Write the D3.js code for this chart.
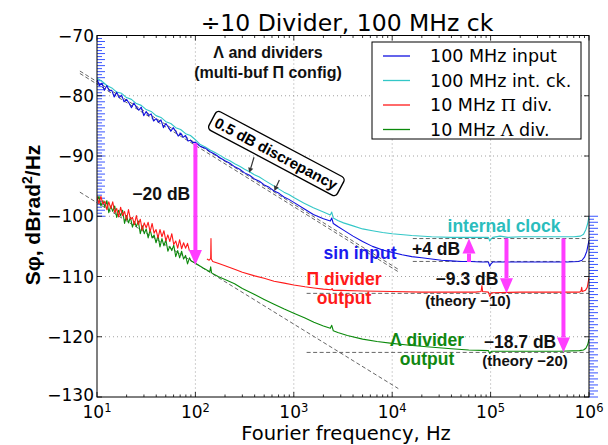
<!DOCTYPE html>
<html><head><meta charset="utf-8">
<script src="https://cdn.jsdelivr.net/npm/d3@7"></script>
<style>
body{margin:0;background:#fff;}
svg{display:block;}
</style></head><body>
<svg id="c" width="608" height="445"></svg>
<script>
// ---------- DATA ----------
const chartTitle = "\u00f710 Divider, 100 MHz ck";
const xLabel = "Fourier frequency, Hz";
const xTickExps = [1, 2, 3, 4, 5, 6];
const yTicks = [-70, -80, -90, -100, -110, -120, -130];
const seriesNames = ["100 MHz input", "100 MHz int. ck.", "10 MHz \u03a0 div.", "10 MHz \u039b div."];
const seriesColors = ["#1010e0", "#33c7c7", "#ff1a1a", "#0b8a0b"];

// [Hz, dBrad^2/Hz]
const inputSeries = [[10,-77.3],[10.59,-78.3],[11.22,-77.9],[11.89,-79.1],[12.59,-78.3],[13.34,-79.2],[14.13,-79.1],[14.96,-80.2],[15.85,-79.4],[16.79,-80.3],[17.78,-79.9],[18.84,-81.0],[19.95,-80.6],[21.13,-81.2],[22.39,-82.0],[23.71,-81.2],[25.12,-81.9],[26.61,-82.4],[28.18,-81.9],[29.85,-83.3],[31.62,-82.6],[33.5,-83.3],[35.48,-83.0],[37.58,-84.2],[39.81,-83.8],[42.17,-84.4],[44.67,-84.0],[47.32,-85.3],[50.12,-84.6],[53.09,-85.2],[56.23,-85.9],[59.57,-85.3],[63.1,-85.9],[66.83,-86.7],[70.79,-86.2],[74.99,-86.9],[79.43,-86.6],[84.14,-87.5],[89.13,-87.4],[94.41,-87.8],[100,-87.7],[112,-88.4],[126,-88.7],[141,-89.3],[158,-89.7],[178,-90.3],[200,-90.8],[224,-91.2],[251,-91.8],[282,-92.2],[316,-92.8],[355,-93.2],[398,-93.8],[447,-94.2],[501,-94.8],[562,-95.2],[631,-95.8],[708,-96.2],[794,-96.8],[891,-97.2],[1000,-97.7],[1260,-98.7],[1580,-99.7],[2000,-100.4],[2350,-100.8],[2430,-100.3],[2520,-101.2],[2800,-101.7],[3200,-102.3],[4000,-103.3],[5000,-104.2],[6300,-105.0],[8000,-105.6],[10000,-106.0],[12600,-106.4],[15800,-106.7],[20000,-106.9],[25100,-107.1],[31600,-107.3],[39800,-107.4],[50100,-107.5],[63100,-107.5],[79400,-107.6],[95000,-107.6],[98000,-108.3],[101000,-107.9],[105000,-107.6],[150000,-107.6],[300000,-107.6],[600000,-107.6],[780000,-107.5],[850000,-107.3],[900000,-106.8],[950000,-105.8],[1000000,-104.0]];

const intClockSeries = [[10,-77.1],[11.22,-77.6],[12.59,-78.3],[14.13,-78.7],[15.85,-79.4],[17.78,-79.6],[19.95,-80.3],[22.39,-80.6],[25.12,-81.3],[28.18,-81.6],[31.62,-82.3],[35.48,-82.6],[39.81,-83.3],[44.67,-83.6],[50.12,-84.3],[56.23,-84.6],[63.1,-85.3],[70.79,-85.6],[79.43,-86.3],[89.13,-86.6],[100,-87.3],[112,-88.1],[126,-88.5],[141,-89.0],[158,-89.4],[178,-89.9],[200,-90.4],[224,-90.8],[251,-91.3],[282,-91.7],[316,-92.2],[355,-92.6],[398,-93.1],[447,-93.5],[501,-94.0],[562,-94.5],[631,-95.0],[708,-95.5],[794,-96.0],[891,-96.4],[1000,-96.9],[1260,-97.8],[1580,-98.6],[2000,-99.3],[2350,-99.8],[2430,-99.3],[2520,-100.3],[2800,-100.7],[3200,-101.1],[4000,-101.6],[5000,-102.1],[6300,-102.4],[8000,-102.7],[10000,-102.9],[15800,-103.2],[25100,-103.4],[39800,-103.5],[63100,-103.5],[95000,-103.5],[98000,-104.1],[101000,-103.8],[105000,-103.5],[125000,-103.3],[150000,-103.5],[200000,-103.4],[400000,-103.4],[700000,-103.4],[820000,-103.3],[880000,-103.0],[930000,-102.2],[970000,-101.2],[1000000,-100.0]];

const piDivLow = [[10,-96.6],[10.47,-97.9],[10.96,-96.7],[11.48,-98.0],[12.02,-97.5],[12.59,-98.9],[13.18,-97.6],[13.8,-98.7],[14.45,-97.6],[15.14,-99.4],[15.85,-98.7],[16.6,-100.1],[17.38,-98.5],[18.2,-99.9],[19.05,-99.2],[19.95,-100.6],[20.89,-98.9],[21.88,-100.5],[22.91,-100.2],[23.99,-101.4],[25.12,-99.9],[26.3,-101.4],[27.54,-100.5],[28.84,-102.3],[30.2,-101.1],[31.62,-101.9],[33.11,-101.0],[34.67,-102.6],[36.31,-101.2],[38.02,-102.8],[39.81,-102.2],[41.69,-103.6],[43.65,-102.2],[45.71,-103.4],[47.86,-102.4],[50.12,-104.1],[52.48,-103.1],[54.95,-104.2],[57.54,-102.9],[60.26,-104.7],[63.1,-104.1],[66.07,-105.3],[69.18,-103.9],[72.44,-105.4],[75.86,-104.4],[79.43,-105.3],[83.18,-104.5],[87.1,-105.8]];

const piDivHigh = [[131,-107.1],[138,-107.3],[143,-107.0],[144,-103.7],[145,-107.1],[150,-107.5],[170,-107.8],[200,-108.2],[250,-108.8],[300,-109.3],[400,-109.9],[500,-110.3],[630,-110.8],[800,-111.1],[1000,-111.4],[1300,-111.7],[1600,-111.9],[2000,-112.1],[2400,-112.2],[2450,-112.0],[2500,-112.3],[3000,-112.3],[5000,-112.4],[10000,-112.5],[20000,-112.6],[40000,-112.6],[70000,-112.6],[80000,-112.5],[81600,-111.5],[83000,-112.5],[95000,-112.6],[98000,-113.3],[102000,-112.7],[200000,-112.6],[500000,-112.6],[800000,-112.6],[830000,-112.4],[843000,-111.8],[855000,-112.5],[920000,-112.3],[960000,-111.8],[1000000,-110.2]];

const lambdaDivSeries = [[10,-97.4],[10.47,-96.7],[10.96,-98.3],[11.48,-97.4],[12.02,-98.5],[12.59,-97.4],[13.18,-99.4],[13.8,-98.3],[14.45,-99.2],[15.14,-98.3],[15.85,-100.2],[16.6,-99.0],[17.38,-99.9],[18.2,-99.0],[19.05,-101.2],[19.95,-99.9],[20.89,-101.1],[21.88,-100.2],[22.91,-101.8],[23.99,-100.9],[25.12,-101.7],[26.3,-100.8],[27.54,-102.9],[28.84,-101.6],[30.2,-102.9],[31.62,-102.1],[33.11,-103.6],[34.67,-102.2],[36.31,-103.6],[38.02,-103.1],[39.81,-104.4],[41.69,-103.2],[43.65,-105.1],[45.71,-103.7],[47.86,-104.9],[50.12,-103.9],[52.48,-105.8],[54.95,-105.0],[57.54,-105.7],[60.26,-104.8],[63.1,-106.7],[66.07,-105.7],[69.18,-106.9],[72.44,-105.8],[75.86,-107.1],[79.43,-106.5],[83.18,-107.9],[87.1,-106.9],[90,-107.4],[100,-107.8],[120,-108.6],[140,-109.2],[143,-108.4],[146,-109.4],[170,-110.0],[200,-110.5],[250,-111.2],[300,-112.0],[400,-113.0],[500,-113.8],[630,-114.6],[800,-115.4],[1000,-116.1],[1300,-116.9],[1600,-117.6],[2000,-118.2],[2350,-118.6],[2430,-118.1],[2520,-119.0],[2800,-119.3],[3500,-119.8],[5000,-120.4],[7000,-120.8],[10000,-121.1],[15000,-121.4],[24000,-121.7],[40000,-122.0],[60000,-122.2],[95000,-122.3],[98000,-122.8],[102000,-122.4],[200000,-122.4],[500000,-122.4],[800000,-122.3],[880000,-122.2],[930000,-121.9],[970000,-121.3],[1000000,-120.4]];

// guide lines: slope (1/f) guides and noise floors
const slopeGuides = [[[6.7,-75.9],[11500,-108.8]],[[6.7,-76.3],[11500,-109.2]],[[6.7,-96.0],[11530,-128.6]]];
const floorGuides = [[16200,-103.7],[16200,-107.5],[1350,-112.8],[1350,-122.6]];
// magenta difference arrows: [Hz, from dB, to dB]
const gapArrows = [[100,-87.9,-108.1],[60300,-107.6,-103.7],[145000,-103.7,-112.8],[550000,-103.7,-122.6]];
// small discrepancy pointers: [fromHz, fromdB, toHz, todB]
const pointerArrows = [[394,-90.2,353,-92.8],[713,-94.0,634,-95.8]];
// text notes: [Hz, dB(baseline), text, color, size]
const notes = [
  [547,-73.8,"\u039b and dividers","#111",16],
  [547,-77.1,"(multi-buf \u03a0 config)","#111",16],
  [45,-97.35,"\u221220 dB","#111",17.5],
  [136800,-102.65,"internal clock","#2bbdbd",17.5],
  [4710,-107.1,"sin input","#1a1aee",17.5],
  [27900,-106.5,"+4 dB","#111",17.5],
  [3240,-111.4,"\u03a0 divider","#ff1a1a",17.5],
  [3240,-114.5,"output","#ff1a1a",17.5],
  [57500,-111.4,"\u22129.3 dB","#111",17.5],
  [58900,-114.9,"(theory \u221210)","#111",15],
  [22600,-121.5,"\u039b divider","#118811",17.5],
  [22600,-124.7,"output","#118811",17.5],
  [199000,-121.9,"\u221218.7 dB","#111",17.5],
  [224000,-124.9,"(theory \u221220)","#111",15]
];
const boxNote = [659,-89.6,"0.5 dB discrepancy",28];

// ---------- LAYOUT ----------
const L = 97, R = 589, T = 35.5, B = 397;
const svg = d3.select("#c");
const x = d3.scaleLog().domain([10, 1e6]).range([L, R]);
const y = d3.scaleLinear().domain([-130, -70]).range([B, T]);
const tickFont = "'DejaVu Sans', sans-serif";
const boldFont = "'Liberation Sans', Arial, sans-serif";

svg.append("defs").append("clipPath").attr("id","clip")
  .append("rect").attr("x",L).attr("y",T).attr("width",R-L).attr("height",B-T);

// grid
const grid = svg.append("g").attr("stroke","#8a8a8a").attr("stroke-width",0.8).attr("stroke-dasharray","1,3");
[2,3,4,5].forEach(e => grid.append("line").attr("x1",x(10**e)).attr("x2",x(10**e)).attr("y1",T).attr("y2",B));
yTicks.slice(1,-1).forEach(v => grid.append("line").attr("x1",L).attr("x2",R).attr("y1",y(v)).attr("y2",y(v)));

// guides
const line = d3.line().x(d => x(d[0])).y(d => y(d[1]));
const gg = svg.append("g").attr("fill","none").attr("stroke","#555").attr("stroke-width",0.9).attr("stroke-dasharray","4,2.5");
slopeGuides.forEach(s => gg.append("path").attr("d", line(s)));
floorGuides.forEach(f => gg.append("path").attr("d", line([[f[0],f[1]],[1e6,f[1]]])));

// blue ruler ticks
const rb = svg.append("g").attr("stroke","#3a55ff").attr("stroke-width",1);
d3.range(-100, -69.9, 0.5).forEach((v,i) => rb.append("line").attr("x1",L).attr("x2",L + (i%2===0 ? 8 : 5)).attr("y1",y(v)).attr("y2",y(v)));
d3.range(-130, -99.9, 0.5).forEach((v,i) => rb.append("line").attr("x1",R).attr("x2",R + (i%2===0 ? 9 : 5)).attr("y1",y(v)).attr("y2",y(v)));

// data curves
const dg = svg.append("g").attr("clip-path","url(#clip)").attr("fill","none").attr("stroke-width",1.1).attr("stroke-linejoin","round");
dg.append("path").attr("d", line(lambdaDivSeries)).attr("stroke", seriesColors[3]);
dg.append("path").attr("d", line(piDivLow)).attr("stroke", seriesColors[2]);
dg.append("path").attr("d", line(piDivHigh)).attr("stroke", seriesColors[2]);
dg.append("path").attr("d", line(intClockSeries)).attr("stroke", seriesColors[1]);
dg.append("path").attr("d", line(inputSeries)).attr("stroke", seriesColors[0]);

// frame & ticks
svg.append("rect").attr("x",L).attr("y",T).attr("width",R-L).attr("height",B-T).attr("fill","none").attr("stroke","#000").attr("stroke-width",1);
const tk = svg.append("g").attr("stroke","#000").attr("stroke-width",0.8);
for (let e = 1; e <= 6; e++) {
  const px = x(10**e);
  tk.append("line").attr("x1",px).attr("x2",px).attr("y1",B).attr("y2",B-5);
  tk.append("line").attr("x1",px).attr("x2",px).attr("y1",T).attr("y2",T+5);
  if (e < 6) for (let m = 2; m <= 9; m++) {
    const mx = x(m*10**e);
    tk.append("line").attr("x1",mx).attr("x2",mx).attr("y1",B).attr("y2",B-2.5);
    tk.append("line").attr("x1",mx).attr("x2",mx).attr("y1",T).attr("y2",T+2.5);
  }
}
yTicks.forEach(v => {
  tk.append("line").attr("x1",L).attr("x2",L+5).attr("y1",y(v)).attr("y2",y(v));
  tk.append("line").attr("x1",R).attr("x2",R-5).attr("y1",y(v)).attr("y2",y(v));
});

// tick labels
yTicks.forEach(v => svg.append("text").attr("x",L-3).attr("y",y(v) - (v === -130 ? 2 : 0)).attr("dy","0.36em")
  .attr("text-anchor","end").style("font-family",tickFont).style("font-size","17px")
  .text(String(v).replace("-","\u2212")));
xTickExps.forEach(e => {
  const t = svg.append("text").attr("x",x(10**e)).attr("y",418).attr("text-anchor","middle")
    .style("font-family",tickFont).style("font-size","17px");
  t.append("tspan").text("10");
  t.append("tspan").attr("dy",-6).style("font-size","11.5px").text(e);
});

// axis titles
svg.append("text").attr("x",346).attr("y",439.5).attr("text-anchor","middle")
  .style("font-family",tickFont).style("font-size","19.5px").text(xLabel);
const yl = svg.append("text").attr("transform","translate(40,215) rotate(-90)").attr("text-anchor","middle")
  .style("font-family",boldFont).style("font-weight","bold").style("font-size","21px");
yl.append("tspan").text("S\u03c6, dBrad");
yl.append("tspan").attr("dy",-8).style("font-size","14px").text("2");
yl.append("tspan").attr("dy",8).text("/Hz");
svg.append("text").attr("x",347).attr("y",31).attr("text-anchor","middle")
  .style("font-family",tickFont).style("font-size","23.5px").text(chartTitle);

// magenta arrows
const mag = "#ff3dff";
gapArrows.forEach(a => {
  const px = x(a[0]), y0 = y(a[1]), y1 = y(a[2]);
  const dir = y1 > y0 ? 1 : -1, hl = 15, hw = 6.5;
  svg.append("line").attr("x1",px).attr("x2",px).attr("y1",y0).attr("y2",y1 - dir*hl)
    .attr("stroke",mag).attr("stroke-width",4);
  svg.append("path").attr("d",`M${px-hw},${y1-dir*hl}L${px+hw},${y1-dir*hl}L${px},${y1}Z`).attr("fill",mag);
});

// pointer arrows
pointerArrows.forEach(p => {
  const x0 = x(p[0]), y0 = y(p[1]), x1 = x(p[2]), y1 = y(p[3]);
  const ang = Math.atan2(y1-y0, x1-x0), hl = 5, hw = 2.6;
  const bx = x1 - hl*Math.cos(ang), by = y1 - hl*Math.sin(ang);
  const nx = -Math.sin(ang)*hw, ny = Math.cos(ang)*hw;
  svg.append("line").attr("x1",x0).attr("y1",y0).attr("x2",bx).attr("y2",by).attr("stroke","#333").attr("stroke-width",1.2);
  svg.append("path").attr("d",`M${bx+nx},${by+ny}L${bx-nx},${by-ny}L${x1},${y1}Z`).attr("fill","#333");
});

// notes
const greekSplit = s => s.split(/([\u03a0\u039b])/).filter(d => d.length);
notes.forEach(n => {
  svg.append("text").attr("x",x(n[0])).attr("y",y(n[1])).attr("text-anchor","middle")
    .style("font-family",boldFont).style("font-weight","bold").style("font-size",n[4]+"px")
    .attr("fill",n[3]).text(n[2]);
});

// rotated box note
const bg = svg.append("g").attr("transform",`translate(${x(boxNote[0])},${y(boxNote[1])}) rotate(${boxNote[3]})`);
const br = bg.append("rect");
const bt = bg.append("text").attr("text-anchor","middle").attr("dy","0.35em")
  .style("font-family",boldFont).style("font-weight","bold").style("font-size","15px").text(boxNote[2]);
const bb = bt.node().getBBox();
br.attr("x",bb.x-4).attr("y",bb.y-2).attr("width",bb.width+8).attr("height",bb.height+4)
  .attr("rx",4).attr("fill","#fff").attr("stroke","#000").attr("stroke-width",1.4);

// legend
const lg = svg.append("g");
lg.append("rect").attr("x",372).attr("y",42).attr("width",209).attr("height",97).attr("fill","#fff").attr("stroke","#000").attr("stroke-width",1);
seriesNames.forEach((name,i) => {
  const cy = 56 + i*24.5;
  lg.append("line").attr("x1",383).attr("x2",410).attr("y1",cy).attr("y2",cy).attr("stroke",seriesColors[i]).attr("stroke-width",1.3);
  const t = lg.append("text").attr("x",430).attr("y",cy).attr("dy","0.36em")
    .style("font-family",tickFont).style("font-size","17.5px");
  greekSplit(name).forEach(part => {
    const ts = t.append("tspan").text(part);
    if (/[\u03a0\u039b]/.test(part)) ts.style("font-family","'DejaVu Serif', serif");
  });
});
</script>
</body></html>
